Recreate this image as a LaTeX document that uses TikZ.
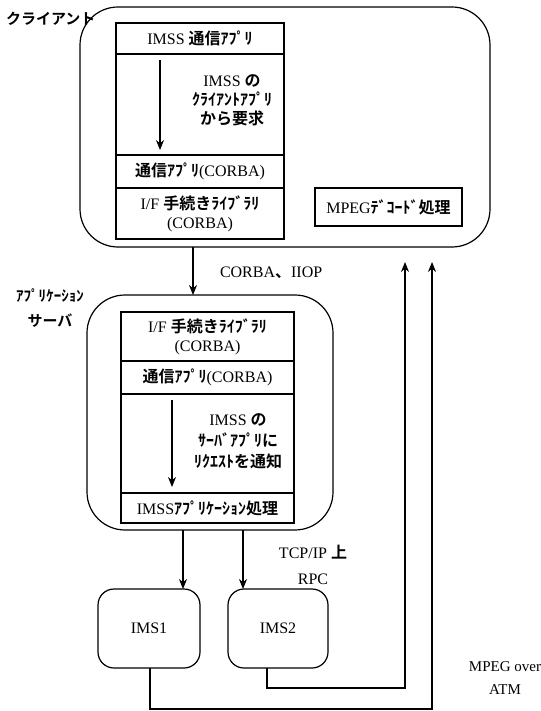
\documentclass[tikz,border=0pt]{standalone}
\usepackage{fontspec}
\setmainfont{Liberation Serif}
\newfontfamily\jp{Noto Sans CJK JP}[BoldFont={Noto Sans CJK JP Bold}]
\usetikzlibrary{arrows.meta}
\newcommand{\J}[1]{{\jp\bfseries #1}}
\begin{document}
\begin{tikzpicture}[x=1pt,y=-1pt,
  every node/.style={inner sep=0pt,outer sep=0pt,font=\fontsize{16}{19}\selectfont},
  bigbox/.style={draw,line width=1.2pt,rounded corners=38pt,anchor=north west},
  smallbox/.style={draw,line width=1.2pt,rounded corners=16pt,anchor=north west},
  rowbox/.style={draw,line width=1.1pt,anchor=north west,align=center},
  arr/.style={line width=1.1pt,-{Stealth[length=10pt,width=8pt]}},
  conn/.style={line width=1.1pt},
  lbl/.style={align=center}]
\useasboundingbox (0,0) rectangle (540,711);
% client
\node[bigbox,minimum width=410pt,minimum height=240pt] (client) at (80,7) {};
\node[rowbox,minimum width=168pt,minimum height=31pt] (c1) at (116,23) {IMSS \J{通信ｱﾌﾟﾘ}};
\node[rowbox,minimum width=168pt,minimum height=101pt] (c2) at (116,54) {};
\node[rowbox,minimum width=168pt,minimum height=33pt] (c3) at (116,155) {\J{通信ｱﾌﾟﾘ}(CORBA)};
\node[rowbox,minimum width=168pt,minimum height=51pt] (c4) at (116,188) {I/F \J{手続きﾗｲﾌﾞﾗﾘ}\\(CORBA)};
\node[lbl,font=\fontsize{16}{19}\selectfont] (ct) at (232,100) {IMSS \J{の}\\\J{ｸﾗｲｱﾝﾄｱﾌﾟﾘ}\\\J{から要求}};
\coordinate (ca1) at (160,60);
\coordinate (ca2) at (160,150);
\draw[arr] (ca1) -- (ca2);
\node[rowbox,minimum width=147pt,minimum height=38pt] (mpeg) at (315,188) {MPEG\J{ﾃﾞｺｰﾄﾞ処理}};
\node[anchor=west,font=\fontsize{15}{18}\selectfont] (clbl) at (6,19) {\J{クライアント}};
% app server
\node[bigbox,minimum width=246pt,minimum height=235pt] (app) at (87,295) {};
\node[rowbox,minimum width=173pt,minimum height=49pt] (a1) at (121,312) {I/F \J{手続きﾗｲﾌﾞﾗﾘ}\\(CORBA)};
\node[rowbox,minimum width=173pt,minimum height=33pt] (a2) at (121,361) {\J{通信ｱﾌﾟﾘ}(CORBA)};
\node[rowbox,minimum width=173pt,minimum height=99pt] (a3) at (121,394) {};
\node[rowbox,minimum width=173pt,minimum height=30pt] (a4) at (121,493) {IMSS\J{ｱﾌﾟﾘｹｰｼｮﾝ処理}};
\node[lbl,font=\fontsize{16}{21}\selectfont] (at) at (238,441) {IMSS \J{の}\\\J{ｻｰﾊﾞｱﾌﾟﾘに}\\\J{ﾘｸｴｽﾄを通知}};
\coordinate (aa1) at (172,400);
\coordinate (aa2) at (172,487);
\draw[arr] (aa1) -- (aa2);
\node[lbl,font=\fontsize{15}{25}\selectfont] (alb) at (50,308) {\J{ｱﾌﾟﾘｹｰｼｮﾝ}\\\J{サーバ}};
% client -> app
\coordinate (k1) at (193,0);
\draw[arr] (k1 |- client.south) -- (k1 |- app.north);
\node[anchor=west] (corba) at (220,273) {CORBA\J{、}IIOP};
% IMS boxes
\node[smallbox,minimum width=102pt,minimum height=79pt] (ims1) at (98,589) {};
\node (ims1t) at (ims1.center) {IMS1};
\node[smallbox,minimum width=100pt,minimum height=79pt] (ims2) at (228,589) {};
\node (ims2t) at (ims2.center) {IMS2};
\coordinate (k2) at (183,0);
\coordinate (k3) at (243,0);
\draw[arr] (k2 |- app.south) -- (k2 |- ims1.north);
\draw[arr] (k3 |- app.south) -- (k3 |- ims2.north);
\node[lbl,font=\fontsize{16}{26}\selectfont] (tcp) at (313,565) {TCP/IP \J{上}\\RPC};
% MPEG over ATM lines
\coordinate (m1) at (405,262);
\coordinate (m2) at (432,262);
\coordinate (b2) at (267,0);
\coordinate (b1) at (150,0);
\draw[conn,-{Stealth[length=10pt,width=8pt]}] (b2 |- ims2.south) -- (267,688) -| (m1);
\draw[conn,-{Stealth[length=10pt,width=8pt]}] (b1 |- ims1.south) -- (150,709) -| (m2);
\node[lbl,font=\fontsize{15}{23}\selectfont] (mpegatm) at (505,678) {MPEG over\\ATM};
\end{tikzpicture}
\end{document}
